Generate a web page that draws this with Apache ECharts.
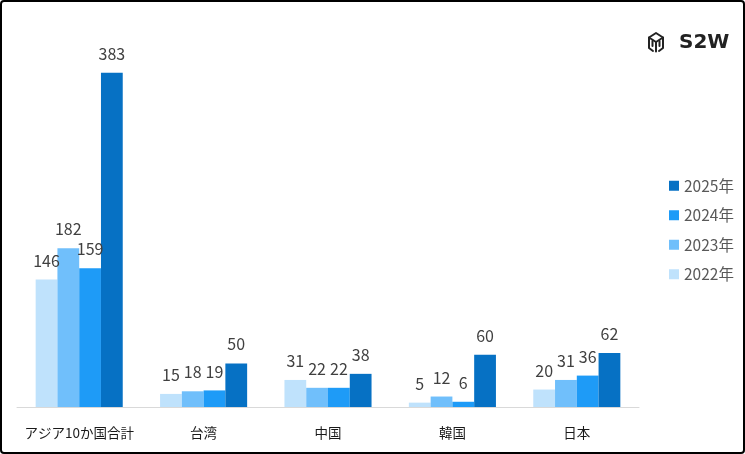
<!DOCTYPE html>
<html>
<head>
<meta charset="utf-8">
<script src="https://cdn.jsdelivr.net/npm/echarts@6/dist/echarts.min.js"></script>
<style>
  html, body { margin: 0; padding: 0; background: #fff; }
  #frame { width: 745px; height: 454px; box-sizing: border-box; border: 2px solid #000; border-radius: 4px; overflow: hidden; }
  #main { width: 741px; height: 450px; }
</style>
</head>
<body>
<div id="frame"><div id="main"></div></div>
<script>
const categories = ["アジア10か国合計", "台湾", "中国", "韓国", "日本"];
const y2022 = [146, 15, 31, 5, 20];
const y2023 = [182, 18, 22, 12, 31];
const y2024 = [159, 19, 22, 6, 36];
const y2025 = [383, 50, 38, 60, 62];
const seriesNames = ["2022年", "2023年", "2024年", "2025年"];
const colors = ["#BFE2FC", "#70BFFB", "#1E9BF7", "#0671C4"];

const font = "'Noto Sans CJK JP', 'Noto Sans', sans-serif";
let myChart = echarts.init(document.getElementById("main"));

const values = [y2022, y2023, y2024, y2025];
const series = seriesNames.map(function (name, i) {
  return {
    name: name,
    type: "bar",
    barGap: "0%",
    barCategoryGap: "30%",
    itemStyle: { color: colors[i] },
    label: {
      show: true,
      position: "top",
      distance: 11,
      color: "#404040",
      fontSize: 16,
      fontFamily: font,
    },
    data: values[i],
  };
});

// 立方体アイコン
const iconStyle = { fill: null, stroke: "#222", lineWidth: 2, lineJoin: "round", lineCap: "round" };

const option = {
  animation: false,
  textStyle: { fontFamily: font },
  grid: { left: 15, right: 104, top: 56, bottom: 45 },
  legend: {
    orient: "vertical",
    left: 662,
    top: 171,
    itemWidth: 10,
    itemHeight: 10,
    itemGap: 14,
    icon: "rect",
    data: ["2025年", "2024年", "2023年", "2022年"],
    textStyle: { color: "#595959", fontSize: 15.5, fontFamily: font },
  },
  xAxis: {
    type: "category",
    data: categories,
    axisLine: { lineStyle: { color: "#D9D9D9", width: 1 } },
    axisTick: { show: false },
    axisLabel: { color: "#1a1a1a", fontSize: 13.5, margin: 19, interval: 0, fontFamily: font },
  },
  yAxis: {
    type: "value",
    min: 0,
    max: 400,
    show: false,
  },
  graphic: [
    {
      type: "group",
      x: 646,
      y: 30,
      children: [
        { type: "polyline", shape: { points: [[5, 19], [1, 16], [1, 5.5], [8, 1], [15, 5.5], [15, 16], [11, 19]] }, style: iconStyle },
        { type: "polyline", shape: { points: [[1, 5.5], [8, 10], [15, 5.5]] }, style: iconStyle },
        { type: "line", shape: { x1: 8, y1: 10, x2: 8, y2: 19.5 }, style: iconStyle },
        { type: "line", shape: { x1: 4.5, y1: 9, x2: 4.5, y2: 14 }, style: iconStyle },
        { type: "line", shape: { x1: 11.5, y1: 9, x2: 11.5, y2: 14 }, style: iconStyle },
      ],
    },
    {
      type: "text",
      x: 677,
      y: 41,
      style: {
        text: "S2W",
        fill: "#222",
        font: "bold 20px 'DejaVu Sans', sans-serif",
        verticalAlign: "middle",
      },
    },
  ],
  series: series,
};
myChart.setOption(option);
window.onresize = function () {
  myChart.resize();
};
</script>
</body>
</html>
